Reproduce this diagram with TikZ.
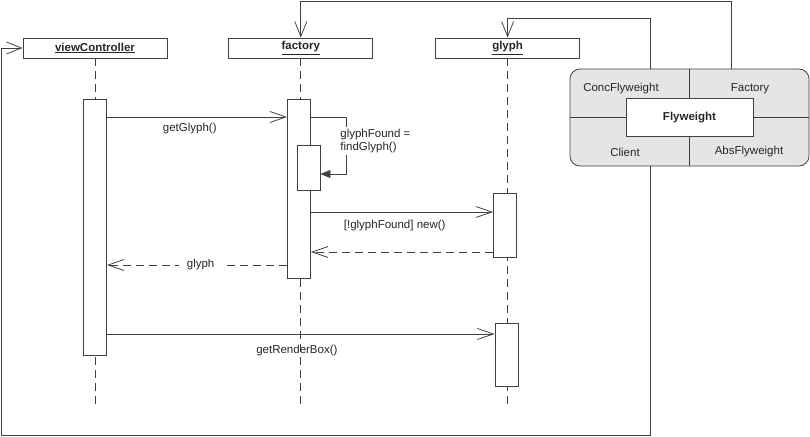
\documentclass[tikz,border=0pt]{standalone}
\usepackage{fontspec}
\setmainfont{Liberation Sans}
\usepackage{tikz}
\usetikzlibrary{positioning, arrows.meta}
\definecolor{linegray}{HTML}{404040}
\definecolor{boxgray}{HTML}{E5E5E5}

\begin{document}
\begin{tikzpicture}[x=1pt, y=-1pt, line width=0.8pt, font=\fontsize{11.5}{13.5}\selectfont, text=black!85,
  head/.style={draw=linegray, minimum width=144pt, minimum height=20pt, inner sep=0pt, font=\fontsize{11.5}{13.5}\selectfont\bfseries},
  act/.style={draw=linegray, fill=white, minimum width=23pt, inner sep=0pt, anchor=north},
  life/.style={linegray, dash pattern=on 8pt off 5pt},
  msg/.style={-{Straight Barb[length=16pt, width=11pt]}, linegray},
  reply/.style={msg, dash pattern=on 8pt off 5pt},
  link/.style={-{Straight Barb[length=15pt, width=12pt]}, linegray}]
  \useasboundingbox (0,0) rectangle (810,436);

  \node[head] (vcHead) at (95,48) {\underline{viewController}};
  \node[head, right=61pt of vcHead] (facHead) {\underline{factory}};
  \node[head, right=62pt of facHead] (glHead) {\underline{glyph}};

  \coordinate (lifeEnd) at (0,405);
  \draw[life] (vcHead) -- (vcHead |- lifeEnd);
  \draw[life] (facHead) -- (facHead |- lifeEnd);
  \draw[life] (glHead) -- (glHead |- lifeEnd);

  \node[act, minimum height=256pt] (vcAct) at (95,99) {};
  \node[act, minimum height=179pt] (facAct) at (299,99) {};
  \node[act, minimum height=45pt] (facIn) at (308.5,145) {};
  \node[act, minimum height=64pt] (glAct) at (505,193) {};
  \node[act, minimum height=63pt] (glAct2) at (506.5,323) {};

  \coordinate (m1) at (0,117);
  \coordinate (m2) at (0,174);
  \coordinate (m3) at (0,212);
  \coordinate (m4) at (0,252);
  \coordinate (m5) at (0,265);
  \coordinate (m6) at (0,334);
  \coordinate (selfX) at (346,0);

  \draw[msg] (vcAct.east |- m1) -- node[below=2pt, pos=0.46, text=black!85] {getGlyph()} (facAct.west |- m1);
  \draw[linegray, -{Triangle[length=10pt, width=8pt]}] (facAct.east |- m1) -- (selfX |- m1) |- (facIn.east |- m2);
  \node[fill=white, align=left, anchor=west, inner sep=2pt] (findLbl) at (338,141) {glyphFound =\\findGlyph()};
  \draw[msg] (facAct.east |- m3) -- node[below=4pt, pos=0.46, text=black!85] {[!glyphFound] new()} (glAct.west |- m3);
  \draw[reply] (glAct.west |- m4) -- (facAct.east |- m4);
  \draw[reply] (facAct.west |- m5) -- node[fill=white, inner sep=1pt, inner xsep=8pt, pos=0.48, text=black!85] {glyph} (vcAct.east |- m5);
  \draw[msg] (vcAct.east |- m6) -- node[below=7pt, pos=0.49, text=black!85] {getRenderBox()} (glAct2.west |- m6);

  \node[draw=linegray, fill=boxgray, rounded corners=10pt, minimum width=239pt, minimum height=97pt] (fw) at (689.5,117.5) {};
  \draw[linegray] (fw.north) -- (fw.south) (fw.west) -- (fw.east);
  \node[draw=linegray, fill=white, minimum width=127pt, minimum height=38pt, font=\fontsize{11.5}{13.5}\selectfont\bfseries] (fwCore) at (fw.center) {Flyweight};
  \node (conc) at (621,89) {ConcFlyweight};
  \node (facRole) at (750,89) {Factory};
  \node (client) at (625,152) {Client};
  \node (absFw) at (749,152) {AbsFlyweight};

  \coordinate (topA) at (0,1);
  \coordinate (topB) at (0,18);
  \coordinate (bottom) at (0,435);
  \coordinate (edge) at (1,48);
  \coordinate (facLink) at (731,69);
  \coordinate (glLink) at (650,69);
  \coordinate (vcLink) at (650,166);
  \draw[link] (facLink) -- (facLink |- topA) -| (facHead.north);
  \draw[link] (glLink) -- (glLink |- topB) -| (glHead.north);
  \draw[link] (vcLink) -- (vcLink |- bottom) -| (edge) -- (vcHead.west);
\end{tikzpicture}
\end{document}
